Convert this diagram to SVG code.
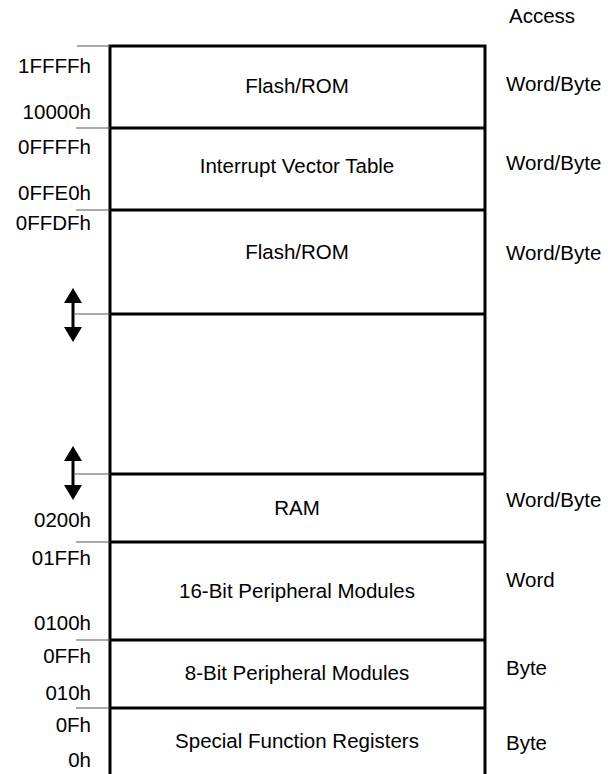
<svg xmlns="http://www.w3.org/2000/svg" width="608" height="774" viewBox="0 0 608 774">
<style>
text{font-family:"Liberation Sans",Arial,sans-serif;font-size:20.5px;fill:#000}
.c{text-anchor:middle}
.l{text-anchor:end}
.frame{fill:none;stroke:#000;stroke-width:3}
.div{stroke:#000;stroke-width:3}
.tick{stroke:#555;stroke-width:1}
.arr{stroke:#000;stroke-width:3}
</style>
<defs>
<marker id="ah" viewBox="0 0 10 10" refX="0" refY="5" markerWidth="5" markerHeight="6" markerUnits="strokeWidth" orient="auto-start-reverse" preserveAspectRatio="none"><path d="M0,0L10,5L0,10z" fill="#000"/></marker>
</defs>
<rect width="608" height="774" fill="#fff"/>
<g id="frame">
<path class="frame" d="M110,774V46H485V774"/>
</g>
<g id="connectors">
<line class="div" x1="110" y1="128" x2="485" y2="128"/>
<line class="div" x1="110" y1="210" x2="485" y2="210"/>
<line class="div" x1="110" y1="314" x2="485" y2="314"/>
<line class="div" x1="110" y1="474" x2="485" y2="474"/>
<line class="div" x1="110" y1="542" x2="485" y2="542"/>
<line class="div" x1="110" y1="640" x2="485" y2="640"/>
<line class="div" x1="110" y1="708" x2="485" y2="708"/>
<line class="tick" x1="77" y1="46" x2="110" y2="46"/>
<line class="tick" x1="76" y1="128" x2="110" y2="128"/>
<line class="tick" x1="76" y1="210" x2="110" y2="210"/>
<line class="tick" x1="75" y1="314" x2="110" y2="314"/>
<line class="tick" x1="75" y1="474" x2="110" y2="474"/>
<line class="tick" x1="76" y1="542" x2="110" y2="542"/>
<line class="tick" x1="76" y1="640" x2="110" y2="640"/>
<line class="tick" x1="76" y1="708" x2="110" y2="708"/>
<line class="arr" x1="73" y1="303" x2="73" y2="327" marker-start="url(#ah)" marker-end="url(#ah)"/>
<line class="arr" x1="73" y1="461" x2="73" y2="485" marker-start="url(#ah)" marker-end="url(#ah)"/>
</g>
<g id="header"><text x="509" y="23">Access</text></g>
<g id="flash-rom-high">
<text class="l" x="91" y="73">1FFFFh</text>
<text class="l" x="91" y="119">10000h</text>
<text class="c" x="297" y="93">Flash/ROM</text>
<text x="506" y="91">Word/Byte</text>
</g>
<g id="ivt">
<text class="l" x="91" y="154">0FFFFh</text>
<text class="l" x="91" y="200">0FFE0h</text>
<text class="c" x="297" y="173">Interrupt Vector Table</text>
<text x="506" y="170">Word/Byte</text>
</g>
<g id="flash-rom-low">
<text class="l" x="91" y="230">0FFDFh</text>
<text class="c" x="297" y="259">Flash/ROM</text>
<text x="506" y="260">Word/Byte</text>
</g>
<g id="gap"></g>
<g id="ram">
<text class="l" x="91" y="527">0200h</text>
<text class="c" x="297" y="515">RAM</text>
<text x="506" y="507">Word/Byte</text>
</g>
<g id="periph16">
<text class="l" x="91" y="565">01FFh</text>
<text class="l" x="91" y="630">0100h</text>
<text class="c" x="297" y="598">16-Bit Peripheral Modules</text>
<text x="506" y="587">Word</text>
</g>
<g id="periph8">
<text class="l" x="91" y="663">0FFh</text>
<text class="l" x="91" y="700">010h</text>
<text class="c" x="297" y="680">8-Bit Peripheral Modules</text>
<text x="506" y="675">Byte</text>
</g>
<g id="sfr">
<text class="l" x="91" y="732">0Fh</text>
<text class="l" x="91" y="767">0h</text>
<text class="c" x="297" y="748">Special Function Registers</text>
<text x="506" y="750">Byte</text>
</g>
</svg>
